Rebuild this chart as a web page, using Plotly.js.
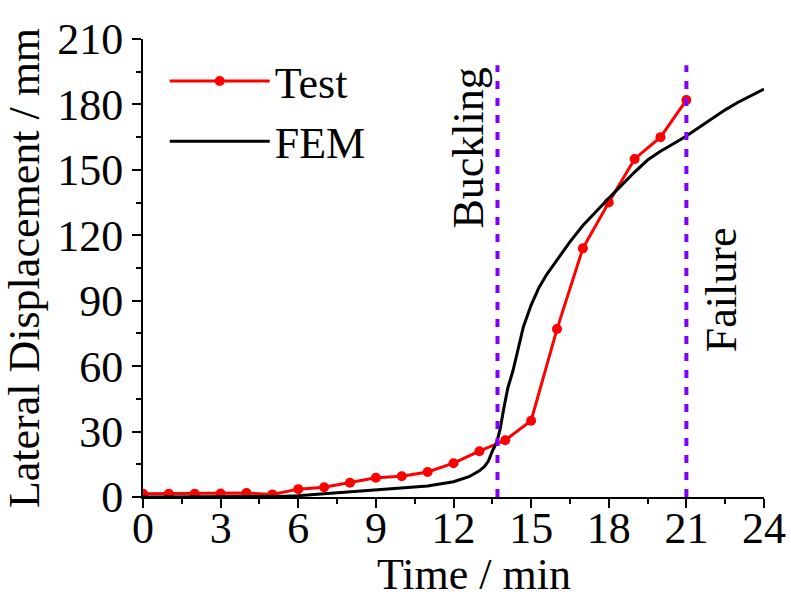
<!DOCTYPE html>
<html>
<head>
<meta charset="utf-8">
<script src="https://cdn.plot.ly/plotly-3.0.1.min.js"></script>
<style>html,body{margin:0;padding:0;background:#fff;}#chart{width:791px;height:599px;}</style>
</head>
<body>
<div id="chart"></div>
<script>
// Test (experimental) data
const testTime = [0, 1, 2, 3, 4, 5, 6, 7, 8, 9, 10, 11, 12, 13, 14, 15, 16, 17, 18, 19, 20, 21];
const testDisp = [1.5, 1.5, 1.5, 1.6, 1.8, 1.2, 3.6, 4.5, 6.5, 8.8, 9.5, 11.5, 15.5, 21, 26, 35, 77, 114, 135, 155, 165, 182];

// FEM data
const femTime = [0, 3, 5, 5.5, 6, 7, 8, 9, 10, 11, 12, 12.6, 13.0, 13.2, 13.35, 13.5, 13.67, 13.8, 13.95, 14.1, 14.3, 14.5, 14.7, 15.0, 15.3, 15.6, 16.0, 16.5, 17.0, 17.5, 18.0, 18.5, 19.0, 19.5, 20.0, 20.5, 21.0, 21.5, 22.0, 22.5, 23.0, 23.5, 24.0];
const femDisp = [0, 0, 0.2, 0.4, 0.6, 1.5, 2.3, 3.2, 4, 5, 7, 9.3, 12, 14, 16.5, 21, 25, 31, 41, 50, 58, 68, 78, 88, 96, 102, 108.7, 117, 124.5, 131, 137, 143, 149, 154.5, 158.5, 162, 165.5, 169.5, 173.5, 177.5, 181, 184, 187];

// Event markers
const eventTimes = [13.7, 21];
const eventLabels = ["Buckling", "Failure"];
const eventLabelY = [160, 95];
const eventTop = 198;

const xTicks = [0, 3, 6, 9, 12, 15, 18, 21, 24];
const yTicks = [0, 30, 60, 90, 120, 150, 180, 210];

const font = '"Liberation Serif", "Times New Roman", Times, serif';

const traces = [
  {x: testTime, y: testDisp, name: "Test", type: "scatter", mode: "lines+markers",
   line: {color: "#ff0000", width: 3}, marker: {color: "#ff0000", size: 10, symbol: "circle"}},
  {x: femTime, y: femDisp, name: "FEM", type: "scatter", mode: "lines",
   line: {color: "#000000", width: 3}}
];

const shapes = eventTimes.map(t => ({
  type: "line", xref: "x", yref: "y", x0: t, x1: t, y0: 0, y1: eventTop,
  line: {color: "#7f00ff", width: 4, dash: "8px,9px"}, layer: "above"
}));

const annotations = eventTimes.map((t, i) => ({
  x: t, y: eventLabelY[i], xref: "x", yref: "y", text: eventLabels[i], showarrow: false,
  textangle: -90, font: {family: font, size: 44, color: "#000"},
  xshift: i === 0 ? -29 : 35
}));
annotations.push({
  x: 0.5, y: 0, xref: "paper", yref: "paper", text: "Time / min", showarrow: false,
  xanchor: "center", yanchor: "top", yshift: -52, xshift: 20, borderpad: 0,
  font: {family: font, size: 44, color: "#000"}
});

const layout = {
  width: 791, height: 599,
  margin: {l: 143, r: 27, t: 39, b: 102},
  paper_bgcolor: "#fff", plot_bgcolor: "#fff",
  font: {family: font, size: 44, color: "#000"},
  showlegend: true,
  legend: {x: 0.035, y: 0.985, xanchor: "left", yanchor: "top", bgcolor: "rgba(0,0,0,0)",
           font: {family: font, size: 44, color: "#000"}, itemwidth: 100, tracegroupgap: 0},
  xaxis: {range: [0, 24], tickvals: xTicks, ticktext: xTicks.map(String), showgrid: false, zeroline: false,
          showline: true, linecolor: "#000", linewidth: 2, ticks: "outside", ticklen: 9, tickwidth: 2, tickcolor: "#000",
          minor: {ticks: "outside", ticklen: 5, tickwidth: 2, tickcolor: "#000", dtick: 1.5, showgrid: false},
          ticklabelstandoff: -18,
          tickfont: {family: font, size: 44, color: "#000"}, mirror: false},
  yaxis: {range: [0, 210], tickvals: yTicks, ticktext: yTicks.map(String), showgrid: false, zeroline: false,
          showline: true, linecolor: "#000", linewidth: 2, ticks: "outside", ticklen: 9, tickwidth: 2, tickcolor: "#000",
          minor: {ticks: "outside", ticklen: 5, tickwidth: 2, tickcolor: "#000", dtick: 15, showgrid: false},
          tickfont: {family: font, size: 44, color: "#000"}, mirror: false,
          title: {text: "Lateral Displacement / mm", font: {family: font, size: 44, color: "#000"}, standoff: 6}},
  shapes: shapes,
  annotations: annotations
};

Plotly.newPlot("chart", traces, layout, {displayModeBar: false, staticPlot: true});
</script>
</body>
</html>
